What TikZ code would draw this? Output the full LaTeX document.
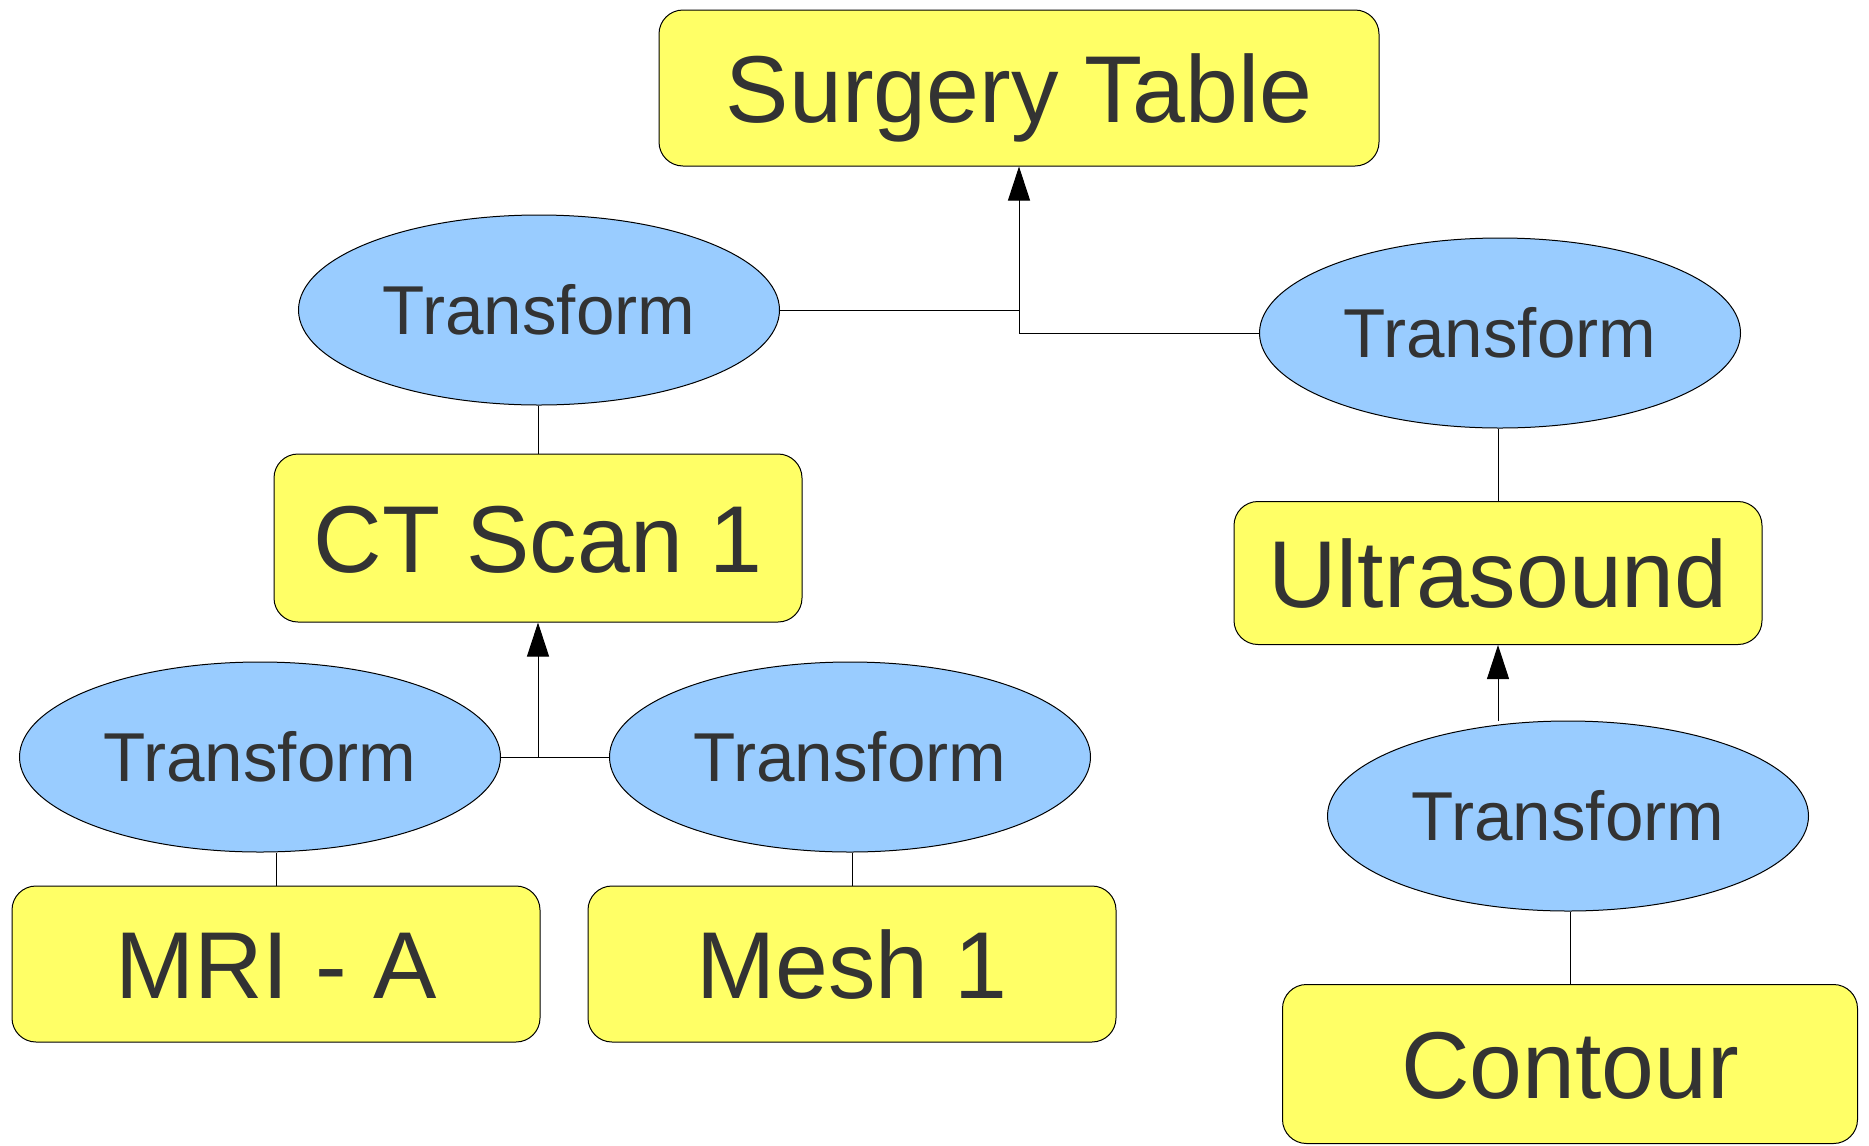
\documentclass[tikz,border=0pt]{standalone}
\usepackage{fontspec}
\setmainfont{Liberation Sans}
\usetikzlibrary{shapes.geometric,arrows.meta}

\definecolor{caja}{HTML}{FFFF66}
\definecolor{elipse}{HTML}{99CCFF}
\definecolor{texto}{HTML}{333333}

\tikzset{
  dato/.style={draw, fill=caja, rounded corners=12pt, inner sep=0pt, text=texto,
    font=\fontsize{47.5}{57}\selectfont, text height=34pt, text depth=0pt,
    minimum width=264pt, minimum height=78pt},
  trafo/.style={draw, ellipse, fill=elipse, inner sep=0pt, text=texto,
    font=\fontsize{34.6}{41}\selectfont, text height=24.8pt, text depth=0pt,
    minimum width=240.5pt, minimum height=95pt},
  flecha/.style={-{Triangle[length=17pt,width=11pt]}}
}

\begin{document}
\begin{tikzpicture}[x=0.5pt, y=-0.5pt, line width=0.5pt]
            \useasboundingbox (0,0) rectangle (1869,1146);

            % Mesa de cirugia
            \node[dato, minimum width=360pt] (mesa) at (1019,88) {Surgery Table};

            % Transformaciones superiores
            \node[trafo] (tsup) at (539,310) {Transform};
            \node[trafo] (tder) at (1500,333) {Transform};

            % Imagenes intermedias
            \node[dato, minimum height=84pt] (ct) at (538,538) {CT Scan 1};
            \node[dato, minimum height=71.5pt] (eco) at (1498,573) {Ultrasound};

            % Transformaciones inferiores
            \node[trafo] (tmri) at (260,757) {Transform};
            \node[trafo] (tmalla) at (850,757) {Transform};
            \node[trafo] (tcont) at (1568,816) {Transform};

            % Datos de abajo
            \node[dato] (mri) at (276,964) {MRI - A};
            \node[dato] (malla) at (852,964) {Mesh 1};
            \node[dato, minimum width=287.5pt, minimum height=79.5pt] (contorno) at (1570,1064) {Contour};

            % Conexiones a la mesa
            \draw[flecha] (tder.west) -| (mesa.south);
            \draw (tsup.east) -- (tsup.east -| mesa.south);

            % Conexiones al CT
            \draw (ct.north) -- (ct.north |- tsup.south);
            \draw[flecha] (tmalla.west) -| (ct.south);
            \draw (tmri.east) -- (tmri.east -| ct.south);
            \draw (mri.north) -- (mri.north |- tmri.south);
            \draw (malla.north) -- (malla.north |- tmalla.south);

            % Conexiones al ultrasonido
            \draw (eco.north) -- (eco.north |- tder.south);
            \draw[flecha] (eco.south |- tcont.north) -- (eco.south);
            \draw (contorno.north) -- (contorno.north |- tcont.south);
        \end{tikzpicture}
\end{document}
